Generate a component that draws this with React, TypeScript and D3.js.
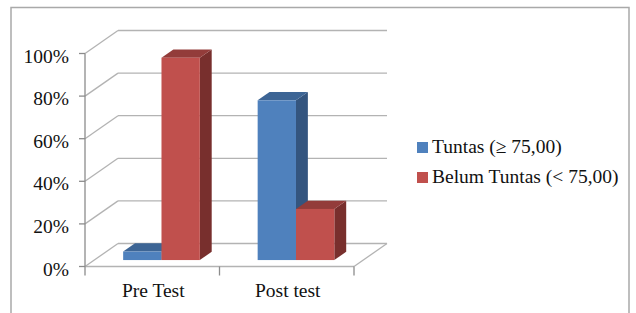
import React, { useRef, useEffect } from "react";
import * as d3 from "d3";

const categories = ["Pre Test", "Post test"];
const seriesNames = ["Tuntas (≥ 75,00)", "Belum Tuntas (< 75,00)"];
const tuntas = [4, 75];
const belumTuntas = [95, 24];
const yTicks = [0, 20, 40, 60, 80, 100];

const colors = [
  { front: "#4f81bd", top: "#3d6595", side: "#34557f" },
  { front: "#c0504d", top: "#933c3a", side: "#782f2d" },
];

const W = 636;
const H = 313;
const DX = 33; // depth offset of the back wall
const DY = 23;
const FONT = "'Liberation Serif', 'Times New Roman', serif";
const FS = 19.5;

export default function App() {
  const ref = useRef<SVGSVGElement>(null);

  useEffect(() => {
    const svg = d3.select(ref.current);
    svg.selectAll("*").remove();

    const left = 85;
    const right = 354;
    const x = d3.scaleBand().domain(categories).range([left, right]).paddingInner(0.43).paddingOuter(0.215);
    const xs = d3.scaleBand().domain(seriesNames).range([0, x.bandwidth()]);
    const y = d3.scaleLinear().domain([0, 100]).range([266.5, 53.5]);

    // outer frame
    svg.append("rect")
      .attr("x", 11).attr("y", 7.5).attr("width", 618).attr("height", 330)
      .attr("fill", "none").attr("stroke", "#a9a9a9").attr("stroke-width", 1.5);

    const grid = svg.append("g").attr("fill", "none").attr("stroke", "#b3b3b3").attr("stroke-width", 1.3);

    // back wall lines + side wall diagonals
    yTicks.forEach((t) => {
      grid.append("line")
        .attr("x1", left + DX).attr("y1", y(t) - DY)
        .attr("x2", right + DX).attr("y2", y(t) - DY);
      grid.append("line")
        .attr("x1", left).attr("y1", y(t))
        .attr("x2", left + DX).attr("y2", y(t) - DY);
    });
    // floor
    grid.append("line").attr("x1", left).attr("y1", y(0)).attr("x2", right).attr("y2", y(0));
    grid.append("line").attr("x1", right).attr("y1", y(0)).attr("x2", right + DX).attr("y2", y(0) - DY);

    // front axis line and ticks
    const axis = svg.append("g").attr("stroke", "#8c8c8c").attr("stroke-width", 1.3);
    axis.append("line").attr("x1", left).attr("y1", y(100)).attr("x2", left).attr("y2", y(0));
    yTicks.forEach((t) => {
      axis.append("line").attr("x1", left - 6).attr("y1", y(t)).attr("x2", left).attr("y2", y(t));
    });
    const catTicks = [left, (left + right) / 2, right];
    catTicks.forEach((cx) => {
      axis.append("line").attr("x1", cx).attr("y1", y(0)).attr("x2", cx).attr("y2", y(0) + 9);
    });

    // y labels
    svg.append("g").selectAll("text").data(yTicks).enter().append("text")
      .attr("x", 69).attr("y", (t) => y(t) + 9)
      .attr("text-anchor", "end")
      .attr("font-family", FONT).attr("font-size", FS).attr("fill", "#111")
      .text((t) => `${t}%`);

    // x labels
    svg.append("g").selectAll("text").data(categories).enter().append("text")
      .attr("x", (c) => (x(c) as number) + x.bandwidth() / 2 + 1)
      .attr("y", 297)
      .attr("text-anchor", "middle")
      .attr("font-family", FONT).attr("font-size", FS).attr("fill", "#111")
      .text((c) => c);

    // bars (oblique 3D boxes)
    const f1 = 0.28;
    const f2 = 0.64;
    const values = [tuntas, belumTuntas];
    const bars: { x0: number; x1: number; v: number; s: number }[] = [];
    categories.forEach((c, ci) => {
      seriesNames.forEach((s, si) => {
        const x0 = (x(c) as number) + (xs(s) as number);
        bars.push({ x0, x1: x0 + xs.bandwidth(), v: values[si][ci], s: si });
      });
    });

    const gBars = svg.append("g");
    bars.forEach((b) => {
      const fx = f1 * DX, fy = f1 * DY;
      const bx = (f2 - f1) * DX, by = (f2 - f1) * DY;
      const xa = b.x0 + fx, xb = b.x1 + fx;
      const yb = y(0) - fy, yt = y(b.v) - fy;
      const c = colors[b.s];
      gBars.append("polygon")
        .attr("points", [[xb, yt], [xb + bx, yt - by], [xb + bx, yb - by], [xb, yb]].map((p) => p.join(",")).join(" "))
        .attr("fill", c.side);
      gBars.append("polygon")
        .attr("points", [[xa, yt], [xa + bx, yt - by], [xb + bx, yt - by], [xb, yt]].map((p) => p.join(",")).join(" "))
        .attr("fill", c.top);
      gBars.append("rect")
        .attr("x", xa).attr("y", yt).attr("width", xb - xa).attr("height", yb - yt)
        .attr("fill", c.front);
    });

    // legend
    const legend = svg.append("g").attr("transform", "translate(417,142)");
    seriesNames.forEach((s, i) => {
      legend.append("rect")
        .attr("x", 0).attr("y", i * 30).attr("width", 11).attr("height", 11)
        .attr("fill", colors[i].front);
      legend.append("text")
        .attr("x", 15).attr("y", i * 30 + 11)
        .attr("font-family", FONT).attr("font-size", FS).attr("fill", "#111")
        .text(s);
    });
  }, []);

  return (
    <svg
      ref={ref}
      width={W}
      height={H}
      style={{ position: "absolute", left: 0, top: 0, background: "#fff" }}
    />
  );
}
